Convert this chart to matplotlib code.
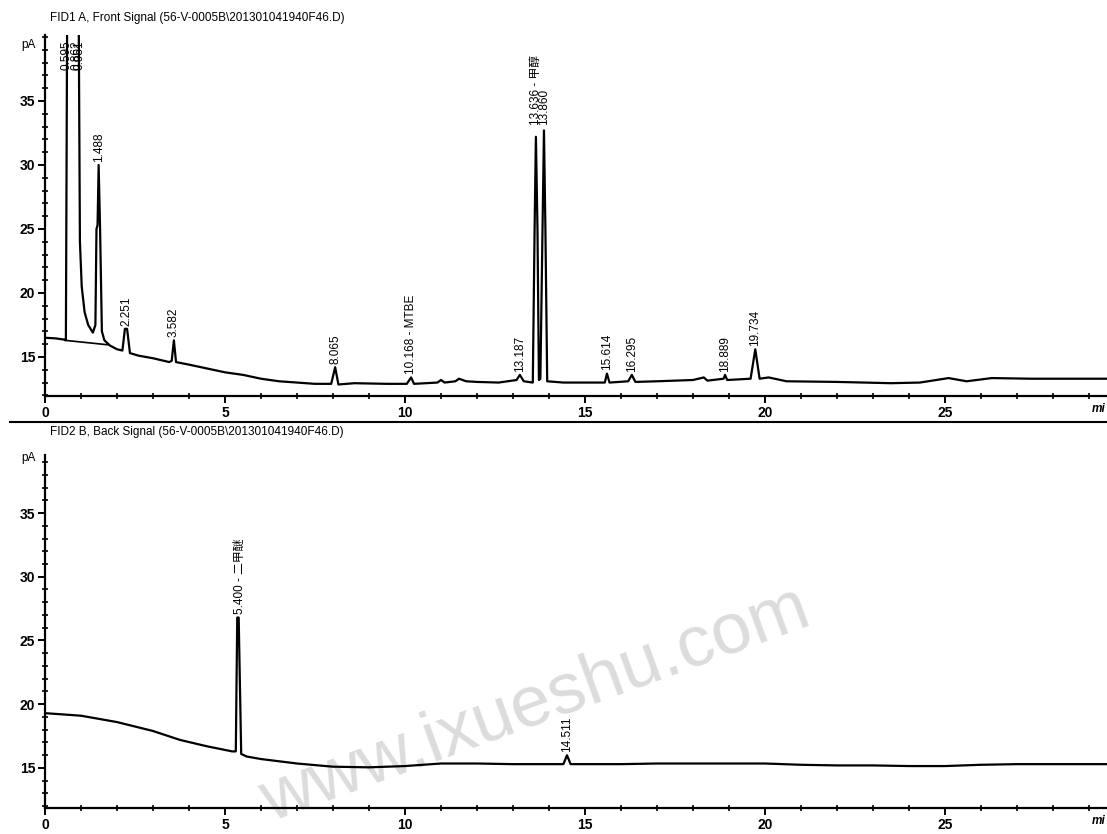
import matplotlib
matplotlib.use('Agg')
import matplotlib.pyplot as plt
from matplotlib.ticker import MultipleLocator
from matplotlib.lines import Line2D

plt.rcParams['font.family'] = ['Liberation Sans', 'Noto Sans CJK SC', 'DejaVu Sans']

# front signal (FID1 A)
t_top = [0.0, 0.3, 0.55, 0.58, 0.62, 0.85, 0.93, 0.97, 1.02, 1.1, 1.2, 1.33,
         1.4, 1.43, 1.46, 1.49, 1.53, 1.58, 1.65, 1.8, 2.0, 2.15, 2.22, 2.28,
         2.36, 2.6, 3.0, 3.45, 3.52, 3.58, 3.64, 4.0, 4.5, 5.0, 5.5, 6.0, 6.5,
         7.0, 7.5, 7.95, 8.06, 8.15, 8.6, 9.5, 10.05, 10.17, 10.25, 10.9, 11.0,
         11.1, 11.4, 11.5, 11.7, 12.0, 12.6, 13.1, 13.19, 13.3, 13.55, 13.6,
         13.636, 13.68, 13.72, 13.76, 13.82, 13.86, 13.9, 13.95, 14.4, 15.0,
         15.55, 15.61, 15.68, 16.2, 16.3, 16.4, 17.0, 18.0, 18.3, 18.4, 18.85,
         18.89, 18.95, 19.6, 19.73, 19.85, 20.1, 20.6, 22.0, 23.5, 24.3, 25.1,
         25.6, 26.3, 27.4, 28.0, 29.5]
y_top = [16.5, 16.45, 16.35, 16.3, 45, 45, 45, 24.0, 20.5, 18.5, 17.5, 16.9,
         17.5, 25.0, 25.3, 30.0, 25.0, 17.0, 16.3, 15.9, 15.6, 15.5, 17.2, 17.2,
         15.3, 15.1, 14.9, 14.6, 14.7, 16.3, 14.6, 14.4, 14.1, 13.8, 13.6, 13.3,
         13.1, 13.0, 12.9, 12.9, 14.2, 12.85, 12.95, 12.9, 12.9, 13.4, 12.9, 13.0,
         13.2, 13.0, 13.1, 13.3, 13.1, 13.05, 13.0, 13.2, 13.6, 13.1, 13.0, 25.0,
         32.2, 25.0, 13.2, 13.3, 25.0, 32.7, 25.0, 13.1, 13.0, 13.0, 13.0, 13.7,
         13.0, 13.1, 13.6, 13.05, 13.1, 13.2, 13.4, 13.15, 13.3, 13.6, 13.2,
         13.3, 15.6, 13.3, 13.4, 13.1, 13.05, 12.95, 13.0, 13.35, 13.1, 13.35,
         13.3, 13.3, 13.3]
base_t_top = [0.55, 1.75]
base_y_top = [16.3, 15.95]

peaks_top = [0.595, 0.862, 0.951, 1.488, 2.251, 3.582, 8.065, 10.168, 13.187,
             13.636, 13.860, 15.614, 16.295, 18.889, 19.734]
apex_top = [37.2, 37.2, 37.2, 30.0, 17.2, 16.3, 14.2, 13.4, 13.6, 32.9, 32.9,
            13.7, 13.6, 13.6, 15.6]
names_top = ['', '', '', '', '', '', '', 'MTBE', '', '甲醇', '', '', '', '', '']

# back signal (FID2 B)
t_bot = [0.0, 1.0, 2.0, 3.0, 3.75, 4.5, 5.2, 5.3, 5.34, 5.38, 5.45, 5.6, 6.0,
         7.0, 8.0, 9.0, 10.0, 11.0, 12.0, 13.0, 14.4, 14.5, 14.6, 16.0, 17.0,
         18.0, 19.0, 20.0, 21.0, 22.0, 23.0, 24.0, 25.0, 26.0, 27.0, 28.0, 29.5]
y_bot = [19.3, 19.1, 18.6, 17.9, 17.2, 16.7, 16.3, 16.3, 26.8, 26.8, 16.1, 15.9,
         15.7, 15.35, 15.1, 15.05, 15.15, 15.35, 15.35, 15.3, 15.3, 16.0, 15.3,
         15.3, 15.35, 15.35, 15.35, 15.35, 15.25, 15.2, 15.2, 15.15, 15.15,
         15.25, 15.3, 15.3, 15.3]
peaks_bot = [5.400, 14.511]
apex_bot = [26.8, 16.0]
names_bot = ['二甲醚', '']

W, H = 1107, 834
fig = plt.figure(figsize=(W / 100, H / 100), dpi=100)


def px(x0, y0, x1, y1):
    return [x0 / W, 1 - y1 / H, (x1 - x0) / W, (y1 - y0) / H]


def panel(rect, ylim, t, y, peaks, apex, names):
    ax = fig.add_axes(rect)
    ax.set_facecolor('none')
    ax.plot(t, y, color='black', lw=1.6)
    ax.set_xlim(0, 29.5)
    ax.set_ylim(*ylim)
    for s in ['top', 'right']:
        ax.spines[s].set_visible(False)
    for s in ['left', 'bottom']:
        ax.spines[s].set_linewidth(1.6)
    ax.xaxis.set_major_locator(MultipleLocator(5))
    ax.xaxis.set_minor_locator(MultipleLocator(1))
    ax.yaxis.set_minor_locator(MultipleLocator(1))
    ax.set_yticks([15, 20, 25, 30, 35])
    ax.tick_params(which='major', direction='out', length=5, width=1.4,
                   labelsize=10, pad=2)
    ax.tick_params(which='minor', direction='inout', length=4, width=1.2)
    for lab in ax.get_xticklabels() + ax.get_yticklabels():
        lab.set_fontweight('bold')
    for p, a, n in zip(peaks, apex, names):
        lab = f'{p:.3f}' + (f' - {n}' if n else '')
        ax.text(p, a + 0.25, lab, rotation=90, ha='center', va='bottom',
                fontsize=8.5)
    return ax


ax1 = panel(px(45, 35, W, 396), (11.95, 40.15), t_top, y_top,
            peaks_top, apex_top, names_top)
ax1.plot(base_t_top, base_y_top, color='black', lw=1.2)
ax2 = panel(px(45, 455, W, 808), (11.86, 39.55), t_bot, y_bot,
            peaks_bot, apex_bot, names_bot)

fig.text(50 / W, 1 - 18 / H,
         r'FID1 A, Front Signal (56-V-0005B\201301041940F46.D)',
         fontsize=8.5, va='center')
fig.text(50 / W, 1 - 432 / H,
         r'FID2 B, Back Signal (56-V-0005B\201301041940F46.D)',
         fontsize=8.5, va='center')
for yy in [45, 458]:
    fig.text(36 / W, 1 - yy / H, 'pA', fontsize=8.5, ha='right', va='center')
for yy in [409, 821]:
    fig.text(1092 / W, 1 - yy / H, 'mi', fontsize=8.5, va='center',
             style='italic', fontweight='bold')

fig.add_artist(Line2D([10 / W, 1], [1 - 422 / H, 1 - 422 / H],
                      color='black', lw=1.5))

fig.text(535 / W, 1 - 705 / H, 'www.ixueshu.com', fontsize=52, rotation=20,
         color='#dcdcdc', ha='center', va='center', zorder=-1)

fig.savefig('out.png', dpi=100)
